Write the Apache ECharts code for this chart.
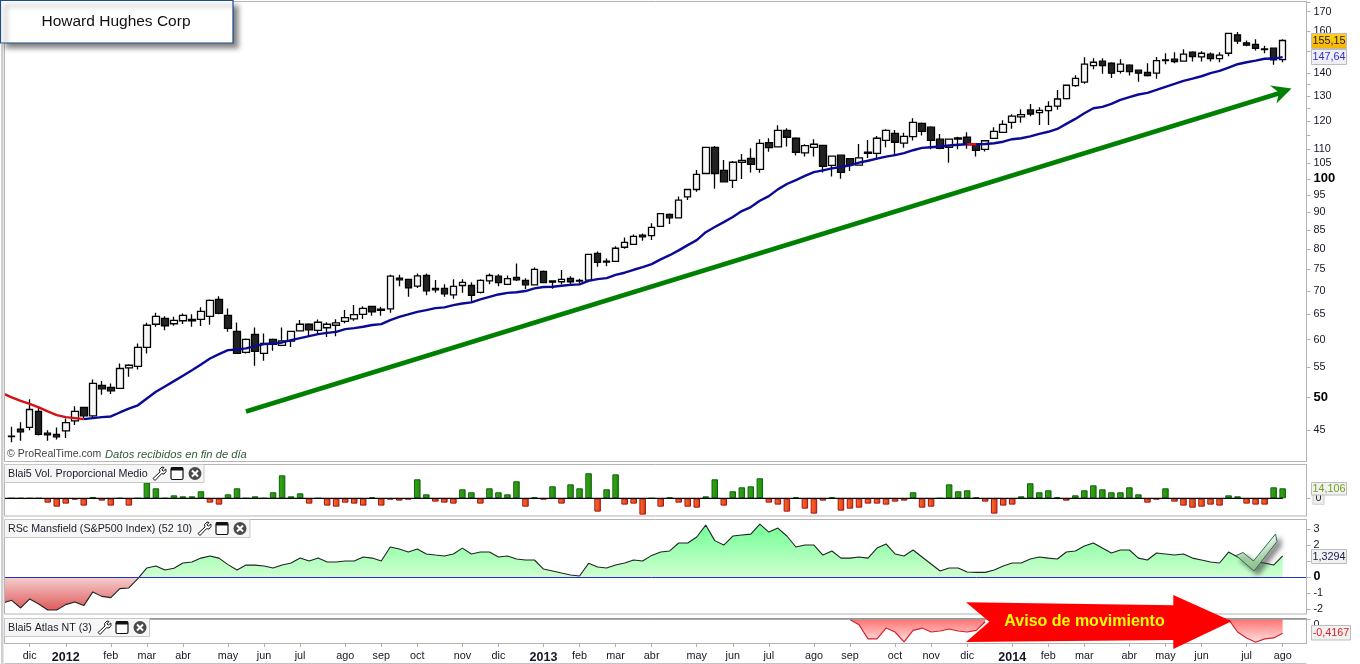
<!DOCTYPE html>
<html><head><meta charset="utf-8">
<style>html,body{margin:0;padding:0;background:#fff}#c{width:1360px;height:664px}</style>
<script src="https://cdn.jsdelivr.net/npm/echarts@6/dist/echarts.min.js"></script></head>
<body><div id="c"></div>
<script>
const opens=[44.1,45.15,45.39,47.76,44.57,44.39,44.9,46.35,48.36,47.1,51.87,51.54,51.38,54.85,55.1,58.52,63,64.17,63.1,63.7,63.97,63.97,64.58,68.17,64.8,61.57,57.6,60.98,57.42,60.03,58.9,59.7,61.7,63,61.77,62.3,62.8,63.57,64.08,65,66.66,66.1,66.17,72.95,72.65,71.1,73.55,70.6,70.6,69.15,71.25,71.25,69.7,72.3,73.4,71.5,73.1,72.4,71.4,74.5,72.3,72.1,72.9,72.25,72.48,78.9,76.75,76.9,80.45,81.2,83.6,83.5,85.95,89.3,88.35,94.4,96.65,101.7,110.5,102.7,99.5,105.4,106.65,103.05,112.2,110.65,116.65,113.75,108.55,110.5,111.2,104.35,107.8,106.6,104.45,108.85,108.4,113,115.55,112,114.3,119.25,117.8,113.4,110.5,113.45,114.1,111.6,109.8,113.7,115.9,119.65,121.75,124.44,123.4,124.15,126,129,134.4,135.9,143.25,145.3,144.35,140.7,143.45,141.2,140.25,139.85,145.55,146.2,145.3,149.5,147.3,148.55,146.5,149,158,154,153.3,150.75,151.4,146];
const closes=[44.15,44.76,48.05,44.39,44.33,44.05,46.1,47.76,47.1,52.2,51.31,50.99,54.74,55.3,58.52,62.8,64.58,62.7,63.77,64.8,63.7,65.62,67.95,65.2,62.17,57.42,60.03,57.79,59.28,59.08,59.77,61.57,63,61.9,63.4,63,63.26,64.35,64.95,66.25,65.52,65.82,73.4,72.55,70.7,73.45,70.05,70.28,69.4,71.05,71.95,69.05,72.4,73.55,71.9,72.8,72.55,71.4,75,71.9,72,72.65,72.1,72.4,78.65,76.7,77,80.2,81.7,83.3,83.15,85.7,89.55,88.35,93.45,96.65,101.4,110.5,101.7,99.05,105.4,106,104.7,111.9,110.4,116.65,114.1,108.8,111.1,111.6,104,107.45,102.05,104.5,106.9,108.4,113.75,116.65,112.3,114.4,119.6,116.25,113,110.15,113.4,113.85,111.6,109.45,112.85,116.25,118.9,122,122.6,122.85,124.3,125.9,128.85,134.6,137.6,143.9,144.8,143.25,139.85,143.9,140.55,139.85,138.8,145.55,145.9,145.1,148.55,147.45,149,146.5,148.1,158.7,154.85,152.85,151.3,151.05,145.9,155.15];
const lows=[43.3,43.5,45,44.25,43.5,43.68,43.9,45.76,46.7,46.75,50.34,50.46,51.31,53.3,54.57,57.42,62.5,61.83,62.7,63.03,62.5,62.64,62.9,65.05,61.5,57.3,57.42,55.2,56.08,57.9,58.75,58.62,61.57,60.65,60.9,60.52,60.65,63.2,63.7,64.08,64.7,64.7,65.33,71.1,68.75,70.7,69.1,69.6,68.75,68.3,69.6,67.45,69.45,71.55,71.1,71.4,72.3,70.45,71.25,71.8,70.5,71.55,71.55,71.55,72.3,75.6,75.75,76.75,80.05,81.1,82.1,82.3,85.85,86.6,88.2,93.45,96,101.5,96.9,98.9,97.1,99.95,102,101.9,109,110.55,110.8,107.65,107.3,107.3,102,100.7,100.05,102.5,104.35,106.85,106.35,110.55,107.8,110.4,112.9,114.7,109.8,109.8,105.2,109.8,110,107.3,109.05,113.7,115.75,117.25,119.5,122,118.6,118.6,124.55,128.6,134,135.2,141.65,139.65,137.7,139.75,138.8,136.15,138.35,137.45,143.9,144.35,145.1,145.1,145.1,145.1,144.8,147.6,153.5,152.3,150.25,149,143.65,144.8];
const highs=[45.5,46.15,49.66,48.55,45,45.39,46.7,48.55,48.36,52.87,52.6,52.2,55.6,55.5,59.28,63.3,65.33,64.64,64.5,65.2,65.05,66.47,68.17,68.88,66.25,63.37,60.22,62.37,61.17,60.22,62.37,61.57,63.83,63.2,63.97,63.4,64.03,65.89,66.95,66.73,66.73,66.6,73.7,73.7,72.65,74,74,72.48,71.55,72.7,72.7,72,72.7,74,73.85,73.55,76.4,72.9,75.45,74.75,72.3,74.82,73.4,72.8,78.7,79.4,77.65,80.7,83,83.8,84.05,86.8,89.55,89.55,94.5,96.9,102.8,110.5,111,106.15,105.8,108.15,110.15,113.4,113.75,118.55,117.4,114.1,111.6,113.4,111.2,107.65,108,106.8,111.7,113.1,114.55,117.05,116.8,115.75,121.2,119.6,118.2,115.3,113.4,114.3,115.9,111.9,113,117.75,120.45,122.75,124.7,126.8,125.5,127.9,132.6,134.75,138.95,147.1,146.7,146.7,144.8,146.2,143.9,141.3,144.35,147.2,149,149.5,150.95,150,150,149.3,149.5,158.7,159.4,155.1,155.8,152.6,151.4,155.8];
const movingAvg=[50.57,49.93,49.39,48.9,48.37,47.76,47.2,46.9,46.75,46.6,46.75,46.9,47,47.6,48.2,48.7,49.77,50.83,51.7,52.58,53.5,54.45,55.45,56.5,57.3,58.02,58.15,58.35,58.76,59.14,59.27,59.46,59.9,60.28,60.66,61.05,61.3,61.5,62.03,62.23,62.5,62.84,63.03,63.83,64.5,65,65.53,65.89,66.3,66.47,66.95,67.3,67.52,68.17,68.73,69.25,69.6,69.75,70,70.6,70.9,70.97,71.2,71.4,71.5,72.3,72.7,72.95,73.7,74.2,74.9,75.55,76.25,77.4,78.45,79.65,81,82.3,84.4,85.8,87.15,88.55,90.25,91.4,93.25,94.65,96.7,98.35,99.6,100.9,102.15,102.7,103.35,103.8,104.35,105.25,105.9,106.6,107.3,107.8,108.5,109.5,110.3,110.55,110.8,111.15,111.4,111.6,111.6,111.7,111.95,112.5,113.4,113.75,114.4,115.35,116.1,117.15,119.05,120.95,123.15,125.1,125.65,126.85,128.46,129.6,130.7,131.4,132.6,133.9,135.15,136.45,137.45,138.5,139.9,140.85,142.4,143.9,144.8,145.55,146.4,146.5,147.2];
const redRanges=[[0,9],[107,108]];
const volume=[0,0,0,0,-6.1,-11.8,-7.5,-1.9,-10.3,1.9,-3.3,-10.3,0,-10.3,0,22.1,14.1,0,4.2,2.8,2.8,9.9,-6.1,-8.9,5.6,14.1,0,2.8,0,8.5,32.4,2.8,7,-7.5,0,-10.3,-11.8,-6.1,-7.5,-10.3,1.4,-10.3,-1.9,-3.3,-1.9,26.8,5.6,-4.7,-6.1,-7.5,12.7,8.5,-7.5,14.1,8.5,5.6,24,-11.8,1.4,-1.9,16.9,-7.5,19.7,14.1,35.3,-18.8,12.7,33.8,-8.9,-7.5,-23,0,-11.8,1.4,-6.1,-11.8,-13.2,2.8,26.8,-10.3,9.9,15.5,16.9,28.2,-6.1,-8.9,-18.8,1.4,-14.6,-21.6,-3.3,1.4,-17.4,-14.6,-13.2,-7.5,-7.5,-8.9,-4.7,-3.3,8.5,-13.2,-11.8,0,19.7,9.9,11.3,1.4,-4.7,-21.6,-10.3,-8.9,2.8,21.2,8.5,11.3,1.4,-3.3,4.2,11.3,18.3,12.7,8.5,8.5,15.5,5.6,-6.1,-1.9,14.1,-4.7,-10.3,-13.2,-11.8,-8.9,-10.3,4.2,2.8,-7.5,-8.9,-8.9,15.5,14.1];
const mansfield=[-1.64,-1.47,-1.95,-1.38,-1.7,-2.08,-2.08,-1.74,-1.57,-1.8,-0.94,-1.22,-1.3,-0.73,-0.69,-0.1,0.57,0.69,0.44,0.55,0.88,0.94,1.19,1.32,1.19,0.78,0.44,0.75,0.75,0.69,0.57,0.75,0.88,1.19,1.01,1.19,0.94,0.94,1.01,1.01,1.26,1.19,1.01,1.89,1.76,1.57,1.76,1.45,1.38,1.32,1.45,1.82,1.45,1.57,1.57,1.26,1.32,1.13,1.07,1.07,0.5,0.38,0.25,0.13,0.06,0.86,0.63,0.57,0.75,0.88,1.07,1.01,1.36,1.57,1.64,2.14,2.14,2.52,3.27,2.29,2.01,2.58,2.64,2.7,3.33,2.83,3.08,2.58,1.89,2.01,2.01,1.38,1.64,1.19,1.19,1.26,1.19,1.82,2.08,1.45,1.32,1.7,1.26,0.82,0.38,0.57,0.57,0.31,0.29,0.29,0.44,0.69,0.88,0.88,1.13,1.26,1.19,1.13,1.57,1.64,1.95,2.14,1.82,1.51,1.7,1.7,1.19,1.07,1.51,1.45,1.38,1.45,1.19,1.07,0.94,0.88,1.57,1.26,1.07,0.94,0.88,0.75,1.33];
const atlasStart=93;
const atlas=[0,-0.16,-0.59,-0.59,-0.26,-0.38,-0.68,-0.33,-0.26,-0.38,-0.35,-0.29,-0.35,-0.38,-0.33,-0.07,'-','-','-','-','-','-','-','-','-','-','-','-','-','-','-','-','-','-','-','-','-','-','-','-','-','-',0,-0.38,-0.56,-0.69,-0.59,-0.56,-0.4167];
const monthTickIndex=[2,6,11,15,19,24,28,32,37,41,45,50,54,59,63,67,71,76,80,84,89,93,98,102,106,111,115,119,124,128,132,137,141];
const monthTickLabels=['dic','2012','feb','mar','abr','may','jun','jul','ago','sep','oct','nov','dic','2013','feb','mar','abr','may','jun','jul','ago','sep','oct','nov','dic','2014','feb','mar','abr','may','jun','jul','ago'];
const priceLabels=[45,50,55,60,65,70,75,80,85,90,95,100,105,110,120,130,140,150,160,170];
const priceTicks=[45,50,55,60,65,70,75,80,85,90,95,100,105,110,115,120,125,130,135,140,150,160,170,175];
const mansfieldTicks=[-2,-1,0,1,2,3];

const FONT='"Liberation Sans",Arial,sans-serif';
const LEAD=1, TRAIL=2, BAND=9.014;
const N=opens.length+LEAD+TRAIL;
const categories=Array.from({length:N},(_,i)=>'w'+i);
const labelOf={};monthTickIndex.forEach((t,k)=>labelOf[t+LEAD]=monthTickLabels[k]);
const candle=opens.map((o,i)=>[o,closes[i],lows[i],highs[i]]);
const isRed=i=>redRanges.some(r=>i>=r[0]&&i<=r[1]);
const maRed=movingAvg.map((v,i)=>isRed(i)?v:'-');
const maBlue=movingAvg.map((v,i)=>(i>=redRanges[0][1]&&i<=redRanges[1][0])||i>=redRanges[1][1]?v:'-');
const g=(c1,c2,h)=>new echarts.graphic.LinearGradient(0,0,h?1:0,h?0:1,[{offset:0,color:c1},{offset:1,color:c2}]);
const volData=volume.map(v=>({value:v,itemStyle:v>=0
  ?{color:g('#3aa81a','#1f8a0a',true),borderColor:'#0c620c',borderWidth:1}
  :{color:g('#ff7030','#d83a10',true),borderColor:'#a41010',borderWidth:1}}));
const atlasFull=[...Array(atlasStart+LEAD).fill('-'),...atlas];

const GL=2.66, GW=(N-1)*BAND, AXOFF=1306.5-(GL+GW);
const grids=[{top:1,height:460},{top:464.5,height:51.5},{top:519.5,height:94.5},{top:618.5,height:25}]
  .map(g=>({left:GL,width:GW,top:g.top,height:g.height}));
const xAxes=grids.map((_,i)=>({gridIndex:i,type:'category',data:categories,boundaryGap:false,z:i===2?6:undefined,
  axisLine:{show:i===3||i===2,onZero:i===2,lineStyle:{color:i===2?'#2233c4':'#b2b2b2',width:1}},
  axisTick:{show:i===3,length:4,interval:k=>labelOf[k]!==undefined,lineStyle:{color:'#b2b2b2'}},
  splitLine:{show:false},
  axisLabel:{show:i===3,interval:k=>labelOf[k]!==undefined,margin:8,color:'#15152a',fontFamily:FONT,fontSize:10.8,
    formatter:(v,k)=>{const t=labelOf[k];if(t===undefined)return '';return /^\d+$/.test(t)?'{y|'+t+'}':t;},
    rich:{y:{fontWeight:'bold',fontSize:12.5,fontFamily:FONT,color:'#15152a'}}}
}));
const axisBase=i=>({gridIndex:i,position:'right',offset:AXOFF,scale:true,splitLine:{show:false},
  axisLine:{show:true,onZero:false,lineStyle:{color:'#b2b2b2',width:1}},
  axisTick:{show:true,length:4,lineStyle:{color:'#b2b2b2'}}});
const lab={color:'#15152a',fontFamily:FONT,fontSize:10.8,margin:7,hideOverlap:false};
const yAxes=[
 {...axisBase(0),type:'log',logBase:10,min:40.8,max:175.9,
  axisTick:{show:true,length:4,lineStyle:{color:'#b2b2b2'},customValues:priceTicks},
  axisLabel:{...lab,customValues:priceLabels,formatter:v=>{const r=Math.round(v);return r===100||r===50?'{b|'+r+'}':''+r;},
    rich:{b:{fontWeight:'bold',fontSize:13,fontFamily:FONT,color:'#000'}}}},
 {...axisBase(1),type:'value',min:-24.96,max:47.66,
  axisTick:{show:true,length:4,lineStyle:{color:'#b2b2b2'},customValues:[0]},
  axisLabel:{...lab,customValues:[0],backgroundColor:'#eee',borderColor:'#ccc',borderWidth:1,padding:[0,2,0,2]}},
 {...axisBase(2),type:'value',min:-2.33,max:3.62,
  axisTick:{show:true,length:4,lineStyle:{color:'#b2b2b2'},customValues:mansfieldTicks},
  axisLabel:{...lab,customValues:mansfieldTicks,formatter:v=>v===0?'{b|0}':''+v,
    rich:{b:{fontWeight:'bold',fontSize:12.5,fontFamily:FONT,color:'#000'}}}},
 {...axisBase(3),type:'value',min:-0.714,max:0.03,
  axisTick:{show:true,length:4,lineStyle:{color:'#b2b2b2'},customValues:[0]},
  axisLabel:{...lab,customValues:[0],verticalAlign:'top'}}
];
const mSpan=Math.max(...mansfield)-Math.min(...mansfield), z0=Math.max(...mansfield)/mSpan;

// --- annotation helpers ---
const G=[];
const frame=(x,y,w,h)=>G.push({type:'rect',z:40,silent:true,shape:{x,y,width:w,height:h},style:{fill:'none',stroke:'#b4b4b4',lineWidth:1}});
G.push({type:'rect',z:39,silent:true,shape:{x:0,y:0,width:4.5,height:664},style:{fill:'#fff'}});
G.push({type:'rect',z:39,silent:true,shape:{x:1,y:44,width:2.5,height:620},style:{fill:'#cfcfcf'}});
frame(4.5,1.5,1302,460);frame(4.5,464.5,1302,51.5);frame(4.5,519.5,1302,94.5);frame(4.5,618.5,1302,25);
G.push({type:'line',z:40,silent:true,shape:{x1:4.5,y1:619,x2:1306.5,y2:619},style:{stroke:'#8e8e8e',lineWidth:1.5}});
G.push({type:'line',z:40,silent:true,shape:{x1:4.5,y1:663.5,x2:1306.5,y2:663.5},style:{stroke:'#c4c4c4',lineWidth:1}});
G.push({type:'line',z:6,silent:true,shape:{x1:GL+GW,y1:577.5,x2:1306.5,y2:577.5},style:{stroke:'#2233c4',lineWidth:1}});
G.push({type:'line',z:6,silent:true,shape:{x1:GL+GW,y1:643.5,x2:1306.5,y2:643.5},style:{stroke:'#b2b2b2',lineWidth:1}});
// title
G.push({type:'rect',z:60,silent:true,shape:{x:0.5,y:0.5,width:232.5,height:42.5},
  style:{fill:'#fff',stroke:'#1f4e84',lineWidth:1.2,shadowBlur:5,shadowOffsetX:5,shadowOffsetY:5,shadowColor:'rgba(60,60,60,0.65)'}});
G.push({type:'text',z:61,silent:true,x:116,y:21.5,style:{text:'Howard Hughes Corp',font:'15.5px '+FONT,fill:'#111',align:'center',verticalAlign:'middle'}});
// footer
G.push({type:'text',z:45,silent:true,x:7,y:454.5,style:{text:'© ProRealTime.com',font:'10.5px '+FONT,fill:'#444',verticalAlign:'middle'}});
G.push({type:'text',z:45,silent:true,x:105,y:454.5,style:{text:'Datos recibidos en fin de día',font:'italic 11.2px '+FONT,fill:'#2f5a35',verticalAlign:'middle'}});
// panel legends
const WRENCH=[[3,-6.5],[0.5,-4],[1,-1.5],[-6,5],[-4,7],[2.5,0.2],[5,0.5],[7,-2],[6.8,-4.5],[4.5,-2.5],[2.8,-3.5],[5,-6]];
function legend(text,y,w,ix){
  G.push({type:'rect',z:50,silent:true,shape:{x:4.5,y,width:w,height:18},style:{fill:'#f6f6f6',stroke:'#c8c8c8',lineWidth:1}});
  G.push({type:'text',z:51,silent:true,x:8,y:y+9.2,style:{text,font:'10.7px '+FONT,fill:'#1a1a2a',verticalAlign:'middle'}});
  const cy=y+9;
  G.push({type:'polygon',z:51,silent:true,shape:{points:WRENCH.map(p=>[ix+p[0],cy+p[1]])},style:{fill:'#fff',stroke:'#111',lineWidth:1}});
  G.push({type:'rect',z:51,silent:true,shape:{x:ix+12,y:cy-6,width:12,height:12,r:1.5},style:{fill:'#fff',stroke:'#111',lineWidth:1.2}});
  G.push({type:'rect',z:52,silent:true,shape:{x:ix+12,y:cy-6,width:12,height:3},style:{fill:'#111'}});
  G.push({type:'circle',z:51,silent:true,shape:{cx:ix+36,cy,r:6.5},style:{fill:'#4a4a4a'}});
  [[-3,-3,3,3],[-3,3,3,-3]].forEach(d=>G.push({type:'line',z:52,silent:true,shape:{x1:ix+36+d[0],y1:cy+d[1],x2:ix+36+d[2],y2:cy+d[3]},style:{stroke:'#fff',lineWidth:2}}));
}
legend('Blai5 Vol. Proporcional Medio',464.5,199.5,159);
legend('RSc Mansfield (S&P500 Index) (52 10)',519.5,245.5,204);
legend('Blai5 Atlas NT (3)',618.5,145,104);
// value badges
function badge(t,y,h,x2,fill,color){
  G.push({type:'rect',z:55,silent:true,shape:{x:1311.5,y,width:x2-1311.5,height:h},style:{fill,stroke:'#bdbdbd',lineWidth:1}});
  G.push({type:'text',z:56,silent:true,x:(1311.5+x2)/2,y:y+h/2+0.3,style:{text:t,font:'10.8px '+FONT,fill:color,align:'center',verticalAlign:'middle'}});
}
badge('155,15',33.5,15,1346.5,g('#ffd21e','#f5b400'),'#222');
badge('147,64',49.5,15,1346.5,'#eeeef6','#3030c0');
badge('14,106',482.5,12.5,1346.5,'#f1f1f1','#78a020');
badge('1,3294',549.5,14,1346.5,'#f1f1f1','#1a1a50');
badge('-0,4167',625.5,14.5,1350.5,'#f1f1f1','#e02020');
// green arrow
G.push({type:'line',z:30,silent:true,shape:{x1:246,y1:411.5,x2:1280,y2:93},style:{stroke:'#008000',lineWidth:4.5}});
G.push({type:'polygon',z:30,silent:true,shape:{points:[[1291.5,88.5],[1270,85.5],[1279,92.5],[1276.5,103.5]]},style:{fill:'#008000'}});
// red banner
G.push({type:'polygon',z:46,silent:true,shape:{points:[[966,602.3],[1173.3,605.3],[1173.3,595],[1231.7,621.3],[1173.3,649],[1173.3,640],[966,642],[989.3,621.7]]},style:{fill:'#ff0000'}});
G.push({type:'text',z:47,silent:true,x:1084.5,y:621.5,style:{text:'Aviso de movimiento',font:'bold 16px '+FONT,fill:'#ffff00',align:'center',verticalAlign:'middle'}});
// check mark
G.push({type:'polygon',z:48,silent:true,shape:{points:[[1236,555.5],[1243,552.5],[1253.5,561],[1275.5,534],[1277,541.5],[1254,571]]},
  style:{fill:g('#f4fff4','#8cc88c'),stroke:'#2f6f55',lineWidth:1,shadowBlur:5,shadowOffsetX:4,shadowOffsetY:4,shadowColor:'rgba(50,50,50,0.6)'}});

const option={animation:false,backgroundColor:'#fff',grid:grids,xAxis:xAxes,yAxis:yAxes,graphic:{elements:G},
 series:[
  {name:'Howard Hughes Corp',type:'candlestick',xAxisIndex:0,yAxisIndex:0,data:[['-','-','-','-'],...candle],barWidth:7,z:3,
   itemStyle:{color:'#f7f7f7',color0:'#222',borderColor:'#000',borderColor0:'#000',borderWidth:1.3}},
  {name:'Media',type:'line',xAxisIndex:0,yAxisIndex:0,data:maBlue,symbol:'none',z:4,connectNulls:false,lineStyle:{color:'#0a0a96',width:2.4}},
  {name:'Media baja',type:'line',xAxisIndex:0,yAxisIndex:0,data:maRed,symbol:'none',z:5,connectNulls:false,lineStyle:{color:'#d80f14',width:2.4}},
  {name:'Vol',type:'bar',xAxisIndex:1,yAxisIndex:1,data:['-',...volData],barWidth:6.5,z:3},
  {name:'Vol0',type:'line',xAxisIndex:1,yAxisIndex:1,data:[0,...volume.map(()=>0)],symbol:'none',z:4,lineStyle:{color:'#000',width:1.2}},
  {name:'Mansfield',type:'line',xAxisIndex:2,yAxisIndex:2,data:mansfield,symbol:'none',z:3,
   lineStyle:{color:'#222',width:1.1},
   areaStyle:{opacity:1,origin:0,color:new echarts.graphic.LinearGradient(0,0,0,1,[
     {offset:0,color:'#72ff96'},{offset:z0,color:'#d0ffd0'},{offset:z0,color:'#f6d0d0'},{offset:1,color:'#df5a5a'}])}},
  {name:'Atlas',type:'line',xAxisIndex:3,yAxisIndex:3,data:atlasFull,symbol:'none',z:3,
   lineStyle:{color:'#d4202c',width:1.2},
   areaStyle:{opacity:1,origin:0,color:g('#ff7474','#ffe0e0')}}
 ]};
const chart=echarts.init(document.getElementById('c'),null,{renderer:'canvas'});
chart.setOption(option);
</script></body></html>
